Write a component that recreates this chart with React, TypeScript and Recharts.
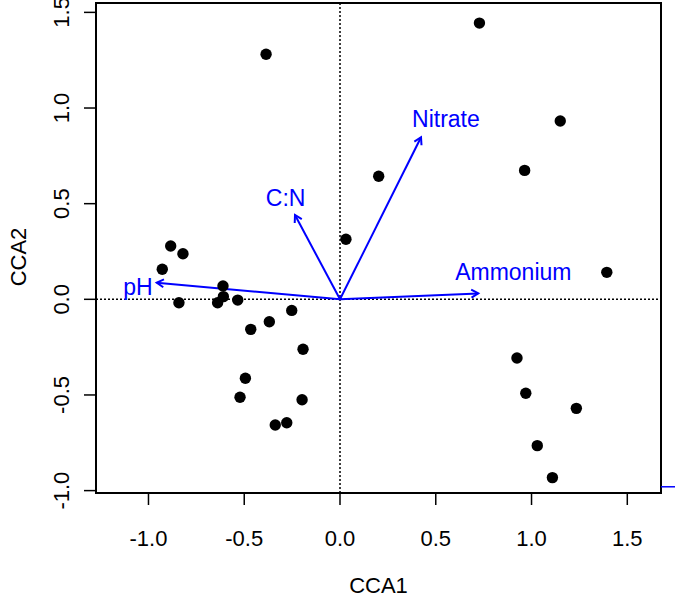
import { ScatterChart, Scatter, XAxis, YAxis, ReferenceLine, ReferenceArea } from 'recharts';

// site scores (CCA1, CCA2)
const siteCCA1 = [-0.386, -0.884, -0.820, -0.928, -0.611, -0.841, -0.639, -0.609, -0.534, -0.252, -0.369, -0.466, -0.193, -0.494, -0.522, -0.198, -0.278, -0.338, 0.728, 1.150, 0.964, 0.202, 0.031, 1.393, 0.924, 0.970, 1.234, 1.030, 1.109];
const siteCCA2 = [1.281, 0.279, 0.238, 0.157, 0.070, -0.018, -0.018, 0.014, -0.004, -0.058, -0.117, -0.157, -0.261, -0.413, -0.512, -0.525, -0.645, -0.657, 1.444, 0.932, 0.674, 0.643, 0.314, 0.141, -0.307, -0.491, -0.570, -0.765, -0.932];

// environmental vectors
const envVars = ['pH', 'C:N', 'Nitrate', 'Ammonium'];
const envCCA1 = [-0.957, -0.235, 0.423, 0.722];
const envCCA2 = [0.087, 0.441, 0.847, 0.031];
const envLabelCCA1 = [-1.055, -0.284, 0.553, 0.905];
const envLabelCCA2 = [0.062, 0.528, 0.943, 0.144];

const axisTicks = [-1, -0.5, 0, 0.5, 1, 1.5];
const xDomain: [number, number] = [-1.274, 1.676];
const yDomain: [number, number] = [-1.0125, 1.549];

const FONT = '"Liberation Sans", Arial, Helvetica, sans-serif';
const BLUE = '#0000FF';

const sites = siteCCA1.map((x, i) => ({ x, y: siteCCA2[i] }));
const labels = envVars.map((name, i) => ({ name, x: envLabelCCA1[i], y: envLabelCCA2[i] }));

const arrowShape = (p: any) => {
    const { x1, y1, x2, y2 } = p;
    const ang = Math.atan2(y2 - y1, x2 - x1);
    const L = 8;
    const a = Math.PI / 6;
    const head = `M${x2 - L * Math.cos(ang - a)},${y2 - L * Math.sin(ang - a)} L${x2},${y2} L${x2 - L * Math.cos(ang + a)},${y2 - L * Math.sin(ang + a)}`;
    return (
        <g>
            <line x1={x1} y1={y1} x2={x2} y2={y2} stroke={BLUE} strokeWidth={2} />
            <path d={head} stroke={BLUE} strokeWidth={2} fill="none" />
        </g>
    );
};

const XTick = ({ x, payload }: any) => (
    <text x={x} y={538} textAnchor="middle" dominantBaseline="central" fontSize={22} fontFamily={FONT} fill="#000">
        {payload.value.toFixed(1)}
    </text>
);

const YTick = ({ y, payload }: any) => (
    <text x={0} y={0} transform={`translate(61, ${y}) rotate(-90)`} textAnchor="middle" dominantBaseline="central" fontSize={22} fontFamily={FONT} fill="#000">
        {payload.value.toFixed(1)}
    </text>
);

export default function App() {
    return (
        <div style={{ position: 'absolute', left: 0, top: 0, background: '#fff' }}>
            <ScatterChart width={675} height={601} margin={{ top: 3, right: 14, left: 36, bottom: 48 }}>
                <XAxis
                    type="number"
                    dataKey="x"
                    domain={xDomain}
                    ticks={axisTicks}
                    allowDataOverflow
                    axisLine={false}
                    tickLine={{ stroke: '#000', strokeWidth: 1.5 }}
                    tickSize={12}
                    height={60}
                    tick={<XTick />}
                    label={({ viewBox }: any) => (
                        <text x={viewBox.x + viewBox.width / 2} y={585} textAnchor="middle" dominantBaseline="central" fontSize={22} fontFamily={FONT} fill="#000">CCA1</text>
                    )}
                />
                <YAxis
                    type="number"
                    dataKey="y"
                    domain={yDomain}
                    ticks={axisTicks}
                    allowDataOverflow
                    axisLine={false}
                    tickLine={{ stroke: '#000', strokeWidth: 1.5 }}
                    tickSize={12}
                    width={60}
                    tick={<YTick />}
                    label={() => (
                        <text x={0} y={0} transform="translate(18, 257) rotate(-90)" textAnchor="middle" dominantBaseline="central" fontSize={22} fontFamily={FONT} fill="#000">CCA2</text>
                    )}
                />
                <ReferenceLine x={0} stroke="#000" strokeWidth={1.5} strokeDasharray="2 2" />
                <ReferenceLine y={0} stroke="#000" strokeWidth={1.5} strokeDasharray="2 2" />
                <ReferenceArea x1={xDomain[0]} x2={xDomain[1]} y1={yDomain[0]} y2={yDomain[1]} fill="none" stroke="#000" strokeWidth={2} fillOpacity={0} ifOverflow="visible" />
                {envVars.map((v, i) => (
                    <ReferenceLine key={v} segment={[{ x: 0, y: 0 }, { x: envCCA1[i], y: envCCA2[i] }]} shape={arrowShape} />
                ))}
                <ReferenceLine segment={[{ x: 1.676, y: -0.98 }, { x: 1.75, y: -0.98 }]} stroke={BLUE} strokeWidth={1.5} ifOverflow="visible" />
                <Scatter
                    data={sites}
                    isAnimationActive={false}
                    shape={(p: any) => <circle cx={p.cx} cy={p.cy} r={5.7} fill="#000" />}
                />
                <Scatter
                    data={labels}
                    isAnimationActive={false}
                    shape={(p: any) => (
                        <text x={p.cx} y={p.cy} textAnchor="middle" dominantBaseline="central" fontSize={23} fontFamily={FONT} fill={BLUE}>
                            {p.payload.name}
                        </text>
                    )}
                />
            </ScatterChart>
        </div>
    );
}
